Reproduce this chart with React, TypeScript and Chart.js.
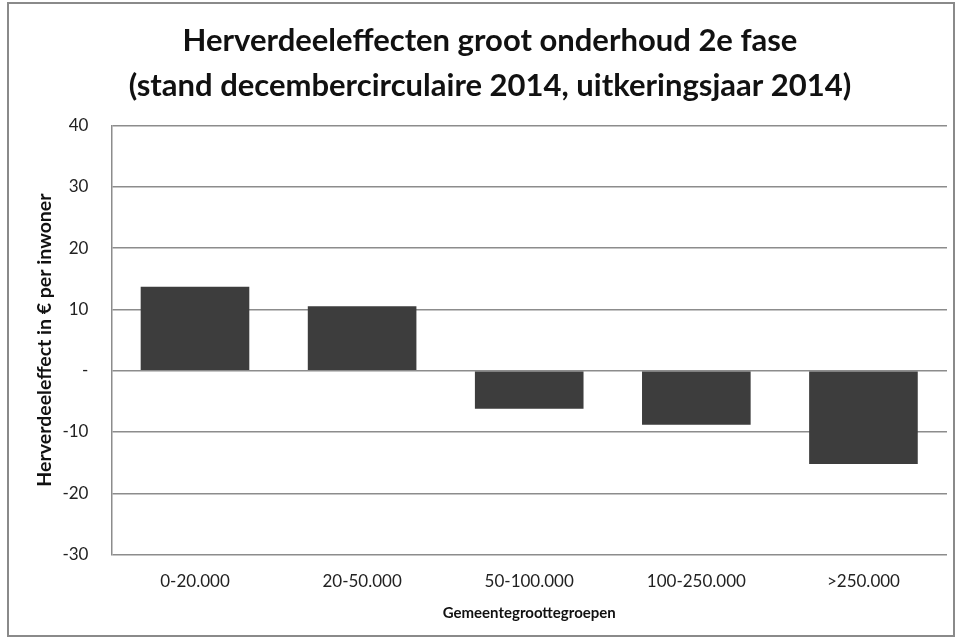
import React, { useEffect, useRef } from "react";
import { Chart, registerables } from "chart.js";

Chart.register(...registerables);

const categories = ["0-20.000", "20-50.000", "50-100.000", "100-250.000", ">250.000"];
const values = [13.7, 10.5, -6.2, -8.8, -15.2];
const titleLines = [
  "Herverdeeleffecten groot onderhoud 2e fase",
  "(stand decembercirculaire 2014, uitkeringsjaar 2014)",
];
const yAxisTitle = "Herverdeeleffect in € per inwoner";
const xAxisTitle = "Gemeentegroottegroepen";
const yMin = -30;
const yMax = 40;
const yStep = 10;

const FONT = "Lato, 'Open Sans', sans-serif";

const borderPlugin = {
  id: "outerBorder",
  afterDraw(chart: any) {
    const ctx = chart.ctx;
    ctx.save();
    ctx.strokeStyle = "#8a8a8a";
    ctx.lineWidth = 2;
    ctx.strokeRect(8, 3, 946, 633);
    ctx.restore();
  },
};

export default function App() {
  const ref = useRef<HTMLCanvasElement | null>(null);
  useEffect(() => {
    if (!ref.current) return;
    const chart = new Chart(ref.current, {
      type: "bar",
      data: {
        labels: categories,
        datasets: [
          {
            data: values,
            backgroundColor: "#3d3d3d",
            borderWidth: 0,
            barPercentage: 0.65,
            categoryPercentage: 1,
          },
        ],
      },
      plugins: [borderPlugin],
      options: {
        animation: false,
        responsive: false,
        maintainAspectRatio: false,
        layout: { padding: { left: 33, right: 12, top: 10, bottom: 14 } },
        plugins: {
          legend: { display: false },
          tooltip: { enabled: false },
          title: {
            display: true,
            text: titleLines,
            color: "#111",
            font: { family: FONT, size: 31, weight: "bold", lineHeight: 1.46 },
            padding: { top: 8, bottom: 17 },
          },
        },
        scales: {
          x: {
            grid: { display: false, drawTicks: false },
            border: { display: false },
            ticks: {
              color: "#222",
              font: { family: FONT, size: 17 },
              padding: 17,
            },
            title: {
              display: true,
              text: xAxisTitle,
              color: "#111",
              font: { family: FONT, size: 15, weight: "bold" },
              padding: { top: -5, bottom: 4 },
            },
          },
          y: {
            min: yMin,
            max: yMax,
            ticks: {
              stepSize: yStep,
              color: "#222",
              font: { family: FONT, size: 17 },
              padding: 23,
              callback: (v: any) => (Number(v) === 0 ? "-" : String(v)),
            },
            grid: { color: "#8c8c8c", lineWidth: 1.5, drawTicks: false },
            border: { display: true, color: "#8c8c8c", width: 1.5 },
            title: {
              display: true,
              text: yAxisTitle,
              color: "#111",
              font: { family: FONT, size: 19.5, weight: "bold" },
              padding: { top: 0, bottom: -17 },
            },
          },
        },
      },
    });
    return () => chart.destroy();
  }, []);
  return (
    <div style={{ position: "absolute", left: 0, top: 0, width: 959, height: 640, background: "#fff" }}>
      <canvas ref={ref} width={959} height={640} />
    </div>
  );
}
